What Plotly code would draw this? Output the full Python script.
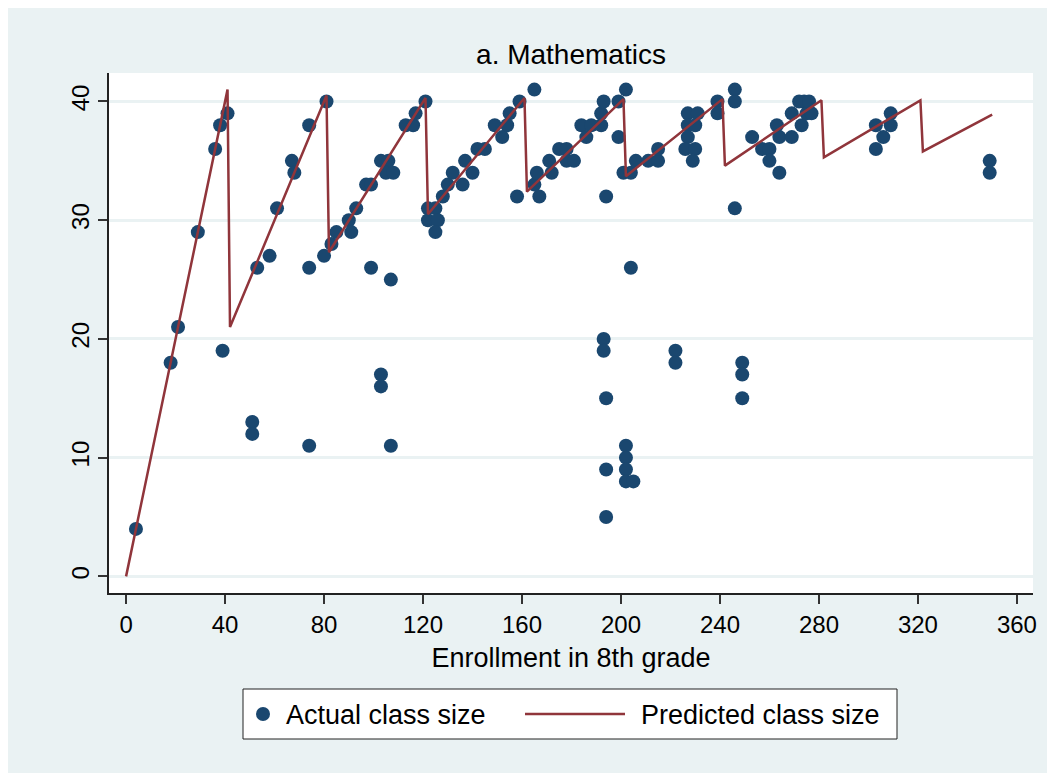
import plotly.graph_objects as go

# Actual class size observations (enrollment, class size)
enroll = [4, 18, 21, 29, 36, 38, 41, 39,
          51, 51, 53, 58, 61, 67, 68, 74, 81, 74, 74, 80, 83, 85, 90, 91, 93, 97, 99, 99,
          103, 106, 105, 108, 107, 103, 103, 107, 113, 116, 117, 121,
          122, 125, 122, 126, 125, 128, 130, 132, 136, 137, 140, 142, 145, 149, 152, 154, 155, 159, 165,
          158, 165, 166, 167, 171, 172, 175, 178, 178, 181, 184, 186, 188, 192, 192, 193, 199, 199,
          194, 193, 193, 194, 194, 194,
          202, 201, 204, 206, 211, 215, 215, 204, 202, 202, 202, 202, 205, 222, 222,
          227, 231, 227, 230, 227, 226, 230, 229, 239, 239, 246, 246, 246, 249, 249, 249,
          253, 257, 260, 260, 263, 264, 264, 269, 269, 273, 274, 275, 272, 276, 277,
          303, 303, 306, 309, 309, 349, 349]
class_size = [4, 18, 21, 29, 36, 38, 39, 19,
              13, 12, 26, 27, 31, 35, 34, 38, 40, 26, 11, 27, 28, 29, 30, 29, 31, 33, 33, 26,
              35, 35, 34, 34, 25, 17, 16, 11, 38, 38, 39, 40,
              31, 31, 30, 30, 29, 32, 33, 34, 33, 35, 34, 36, 36, 38, 37, 38, 39, 40, 41,
              32, 33, 34, 32, 35, 34, 36, 36, 35, 35, 38, 37, 38, 38, 39, 40, 40, 37,
              32, 20, 19, 15, 9, 5,
              41, 34, 34, 35, 35, 35, 36, 26, 11, 10, 9, 8, 8, 19, 18,
              39, 39, 38, 38, 37, 36, 36, 35, 40, 39, 41, 40, 31, 18, 17, 15,
              37, 36, 36, 35, 38, 37, 34, 39, 37, 38, 40, 39, 40, 40, 39,
              38, 36, 37, 39, 38, 35, 34]

# Predicted class size line vertices
pred_x = [0, 41, 42, 81, 82, 121, 122, 161, 162, 201, 202, 241, 242, 281, 282, 321, 322, 350]
pred_y = [0, 41, 21, 40.5, 27.3, 40.3, 30.5, 40.3, 32.4, 40.2, 33.7, 40.2, 34.6, 40.1, 35.3, 40.1, 35.8, 38.9]

x_ticks = [0, 40, 80, 120, 160, 200, 240, 280, 320, 360]
y_ticks = [0, 10, 20, 30, 40]

legend_labels = ["Actual class size", "Predicted class size"]

FONT = "Liberation Sans, Arial, Helvetica, sans-serif"
BG = "#EAF2F3"
NAVY = "#1A476F"
MAROON = "#90353B"

# page geometry (the page adds an 8px body margin)
W, H = 1047, 765
ML, MT, MR, MB = 101, 65, 22, 180
PW = W - ML - MR
PH = H - MT - MB


def px_x(px):  # page pixel -> paper x
    return (px - 8 - ML) / PW


def px_y(py):  # page pixel -> paper y
    return (H - MB + 8 - py) / PH


fig = go.Figure()
fig.add_trace(go.Scatter(
    x=enroll, y=class_size, mode="markers",
    name=legend_labels[0],
    marker=dict(color=NAVY, size=14, line=dict(width=0)),
    showlegend=False,
))
fig.add_trace(go.Scatter(
    x=pred_x, y=pred_y, mode="lines",
    name=legend_labels[1],
    line=dict(color=MAROON, width=2.5),
    showlegend=False,
))

# legend drawn as a framed key below the plot
ly = 714
shapes = [
    dict(type="rect", xref="paper", yref="paper",
         x0=px_x(243), x1=px_x(897), y0=px_y(739), y1=px_y(689),
         fillcolor="white", line=dict(color="#222222", width=1)),
    dict(type="circle", xref="paper", yref="paper",
         x0=px_x(256), x1=px_x(270), y0=px_y(ly + 7), y1=px_y(ly - 7),
         fillcolor=NAVY, line=dict(width=0)),
    dict(type="line", xref="paper", yref="paper",
         x0=px_x(525), x1=px_x(625), y0=px_y(ly), y1=px_y(ly),
         line=dict(color=MAROON, width=2.5)),
]
annotations = [
    dict(text=legend_labels[0], xref="paper", yref="paper", x=px_x(284), y=px_y(ly + 1),
         xanchor="left", yanchor="middle", showarrow=False,
         font=dict(size=27, family=FONT, color="black")),
    dict(text=legend_labels[1], xref="paper", yref="paper", x=px_x(639), y=px_y(ly + 1),
         xanchor="left", yanchor="middle", showarrow=False,
         font=dict(size=27, family=FONT, color="black")),
]

fig.update_layout(
    width=W, height=H,
    paper_bgcolor=BG, plot_bgcolor="white",
    margin=dict(l=ML, r=MR, t=MT, b=MB, autoexpand=False),
    font=dict(family=FONT, color="black", size=24),
    title=dict(text="a. Mathematics", x=(571 - 8) / W, xanchor="center",
               y=1 - (54 - 8) / H, yanchor="middle",
               font=dict(size=28, color="black", family=FONT)),
    showlegend=False,
    shapes=shapes,
    annotations=annotations,
)
fig.update_xaxes(
    range=[-6.9, 366.5], tickvals=x_ticks, ticktext=[str(v) for v in x_ticks],
    showgrid=False, zeroline=False,
    showline=True, linecolor="#222222", linewidth=1.5,
    ticks="outside", ticklen=9, tickwidth=1.5, tickcolor="#333333",
    tickfont=dict(size=24, family=FONT, color="black"),
    title=dict(text="Enrollment in 8th grade", font=dict(size=27, family=FONT, color="black"), standoff=12),
    automargin=False,
)
fig.update_yaxes(
    range=[-1.4, 42.4], tickvals=y_ticks, ticktext=[str(v) for v in y_ticks],
    showgrid=True, gridcolor=BG, gridwidth=2.5, zeroline=False,
    showline=True, linecolor="#222222", linewidth=1.5,
    ticks="outside", ticklen=9, tickwidth=1.5, tickcolor="#333333",
    tickangle=-90,
    tickfont=dict(size=24, family=FONT, color="black"),
    automargin=False,
)

fig.write_html("out.html")
